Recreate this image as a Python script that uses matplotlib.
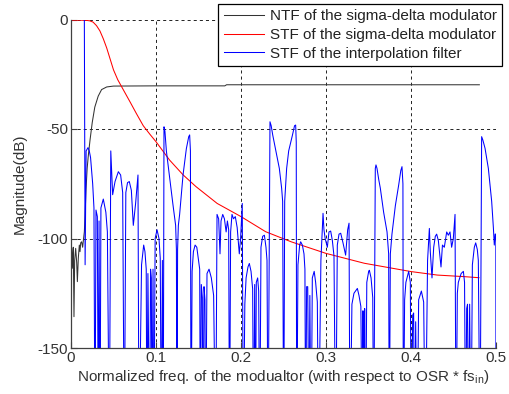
import matplotlib
matplotlib.use("Agg")
import matplotlib.pyplot as plt

plt.rcParams['font.family'] = ['Liberation Sans', 'DejaVu Sans']
plt.rcParams['lines.scale_dashes'] = False

# ---------------- data ----------------
x_ticks = [0, 0.1, 0.2, 0.3, 0.4, 0.5]
x_tick_labels = ['0', '0.1', '0.2', '0.3', '0.4', '0.5']
y_ticks = [-150, -100, -50, 0]
y_tick_labels = ['-150', '-100', '-50', '0']

series_labels = ['NTF of the sigma-delta modulator',
                 'STF of the sigma-delta modulator',
                 'STF of the interpolation filter']

ntf_freq = [0.0000, 0.0008, 0.0020, 0.0027, 0.0035, 0.0043, 0.0055, 0.0067,
            0.0075, 0.0086, 0.0098, 0.0106, 0.0114, 0.0125, 0.0137, 0.0145,
            0.0157, 0.0165, 0.0176, 0.0190, 0.0204, 0.0224, 0.0250, 0.0280,
            0.0320, 0.0360, 0.0420, 0.0500, 0.1000, 0.1810, 0.1830, 0.3000,
            0.4000, 0.4804]
ntf_db = [-108, -104.5, -113.6, -104, -135.7, -110, -104.5, -111,
          -119.7, -109, -103, -106, -102, -101.5, -104, -101,
          -97, -90, -78, -68, -62, -55, -47, -40,
          -35, -32, -30.8, -30.4, -30.3, -30.3, -29.8, -29.8,
          -29.8, -29.8]

stf_sd_freq = [0.000, 0.010, 0.018, 0.022, 0.026, 0.030, 0.034, 0.038,
               0.042, 0.046, 0.050, 0.055, 0.060, 0.065, 0.070, 0.077,
               0.085, 0.093, 0.100, 0.116, 0.132, 0.147, 0.172, 0.200,
               0.229, 0.259, 0.300, 0.345, 0.400, 0.431, 0.462, 0.480]
stf_sd_db = [-0.3, -0.3, -0.4, -0.6, -1.2, -2.8, -5.2, -8.8,
             -13, -18, -23, -27.5, -31, -34.5, -38, -43,
             -48.5, -52.5, -55.8, -64.2, -71, -76.3, -84, -90,
             -96.9, -101.5, -106.8, -111.3, -115.1, -116.7, -117.4, -117.9]

stf_if_freq = [
    0.0000, 0.0157, 0.0166, 0.0178, 0.0200, 0.0215, 0.0230, 0.0255, 0.0270, 0.0282,
    0.0294, 0.0310, 0.0321, 0.0330, 0.0341, 0.0352, 0.0380, 0.0410, 0.0428, 0.0451,
    0.0468, 0.0490, 0.0518, 0.0557, 0.0584, 0.0608, 0.0627, 0.0645, 0.0665, 0.0686,
    0.0710, 0.0733, 0.0760, 0.0788, 0.0800, 0.0830, 0.0855, 0.0870, 0.0885, 0.0893,
    0.0905, 0.0925, 0.0936, 0.0945, 0.0953, 0.0965, 0.0975, 0.0990, 0.1012, 0.1035,
    0.1050, 0.1063, 0.1075, 0.1085, 0.1094, 0.1105, 0.1122, 0.1161, 0.1200, 0.1231,
    0.1240, 0.1247, 0.1254, 0.1263, 0.1278, 0.1318, 0.1357, 0.1385, 0.1396, 0.1405,
    0.1412, 0.1425, 0.1440, 0.1460, 0.1480, 0.1500, 0.1514, 0.1522, 0.1533, 0.1545,
    0.1553, 0.1565, 0.1576, 0.1584, 0.1600, 0.1624, 0.1651, 0.1678, 0.1702, 0.1718,
    0.1737, 0.1753, 0.1765, 0.1785, 0.1805, 0.1825, 0.1840, 0.1855, 0.1865, 0.1878,
    0.1894, 0.1912, 0.1933, 0.1955, 0.1980, 0.1995, 0.2015, 0.2027, 0.2045, 0.2060,
    0.2082, 0.2098, 0.2118, 0.2137, 0.2149, 0.2161, 0.2169, 0.2180, 0.2196, 0.2208,
    0.2220, 0.2235, 0.2255, 0.2275, 0.2294, 0.2306, 0.2318, 0.2341, 0.2355, 0.2373,
    0.2412, 0.2451, 0.2478, 0.2490, 0.2502, 0.2514, 0.2537, 0.2561, 0.2604, 0.2630,
    0.2643, 0.2650, 0.2655, 0.2670, 0.2690, 0.2702, 0.2722, 0.2741, 0.2752, 0.2761,
    0.2772, 0.2785, 0.2800, 0.2810, 0.2825, 0.2839, 0.2861, 0.2878, 0.2898, 0.2912,
    0.2940, 0.2965, 0.2976, 0.2990, 0.3016, 0.3035, 0.3055, 0.3075, 0.3094, 0.3114,
    0.3133, 0.3153, 0.3173, 0.3200, 0.3231, 0.3255, 0.3271, 0.3282, 0.3305, 0.3329,
    0.3369, 0.3388, 0.3410, 0.3427, 0.3435, 0.3445, 0.3455, 0.3465, 0.3480, 0.3502,
    0.3510, 0.3530, 0.3550, 0.3561, 0.3580, 0.3588, 0.3600, 0.3620, 0.3639, 0.3678,
    0.3718, 0.3737, 0.3745, 0.3757, 0.3776, 0.3816, 0.3855, 0.3880, 0.3894, 0.3905,
    0.3910, 0.3925, 0.3940, 0.3973, 0.3992, 0.4004, 0.4020, 0.4031, 0.4042, 0.4055,
    0.4071, 0.4090, 0.4122, 0.4149, 0.4169, 0.4195, 0.4216, 0.4227, 0.4247, 0.4267,
    0.4286, 0.4302, 0.4322, 0.4340, 0.4353, 0.4370, 0.4392, 0.4420, 0.4439, 0.4459,
    0.4478, 0.4498, 0.4518, 0.4530, 0.4545, 0.4557, 0.4590, 0.4616, 0.4630, 0.4643,
    0.4655, 0.4665, 0.4675, 0.4690, 0.4706, 0.4722, 0.4745, 0.4761, 0.4780, 0.4792,
    0.4812, 0.4831, 0.4845, 0.4871, 0.4910, 0.4949, 0.4969, 0.4980, 0.4990, 0.4998,
    0.5000]
stf_if_db = [
    0, 0, -112, -60, -58.5, -60, -63, -75, -86, -200,
    -87, -90, -200, -92, -200, -86, -82, -88, -97, -200,
    -60, -80, -74, -69.5, -71, -79, -200, -79, -74.5, -74,
    -78, -94, -84, -71, -200, -112, -103, -106, -114, -200,
    -116, -200, -114, -118, -200, -114, -200, -100, -96, -100,
    -109, -200, -110, -200, -49, -51, -60, -72.5, -84.7, -94,
    -105, -200, -105, -94, -89, -71, -59, -53.5, -52.7, -60,
    -200, -115, -106, -103, -104, -110, -114, -200, -121, -127,
    -200, -122, -128, -200, -116, -114, -118, -126, -200, -89,
    -91, -107, -92, -89, -91, -97, -92, -96, -200, -97,
    -89, -91, -90, -95, -107, -100, -84, -200, -130, -118,
    -113, -111.4, -115, -123, -200, -121, -200, -120, -118, -124,
    -200, -104, -99, -98.5, -104, -110, -200, -46.7, -48.5, -52.7,
    -60.4, -68, -77, -83, -200, -83, -68, -60, -53, -48.5,
    -48.2, -56, -200, -112, -103, -101.5, -103, -107, -114, -200,
    -122, -122, -200, -126, -200, -118, -115, -120, -129, -200,
    -110, -88.5, -96, -100, -104, -97, -96.6, -101, -108, -200,
    -103, -98, -97.6, -102, -107.6, -96, -93, -200, -130, -125,
    -122.8, -126, -131, -200, -133, -200, -132, -200, -120, -115,
    -114.5, -118, -127, -200, -68, -66.4, -68, -73, -77, -88,
    -97, -107, -200, -107, -98, -85, -75.6, -69, -67.2, -75,
    -200, -128, -120, -115, -120, -200, -135, -134, -200, -138,
    -200, -128, -124, -129, -200, -110, -95.4, -106, -118, -104,
    -99, -98, -101, -108, -113, -103, -104, -97, -98.5, -97,
    -104, -100, -89, -200, -125, -120, -116, -115, -120, -200,
    -132, -130, -200, -130, -200, -112, -104, -102, -105, -110,
    -200, -53.5, -55, -58.8, -68, -83, -95, -103, -98, -98,
    -200]

# ---------------- figure ----------------
fig = plt.figure(figsize=(5.10, 3.94), dpi=100)
ax = fig.add_axes([71 / 510, 1 - 348 / 394, 425 / 510, (348 - 19.5) / 394])

ax.plot(ntf_freq, ntf_db, color='#333333', lw=0.75, label=series_labels[0])
ax.plot(stf_sd_freq, stf_sd_db, color='#ff0000', lw=0.75, label=series_labels[1])
ax.plot(stf_if_freq, stf_if_db, color='#0000ff', lw=0.75, label=series_labels[2])

ax.set_xlim(0, 0.5)
ax.set_ylim(-150, 0)
ax.set_xticks(x_ticks)
ax.set_xticklabels(x_tick_labels)
ax.set_yticks(y_ticks)
ax.set_yticklabels(y_tick_labels)

ax.grid(True, color='#222222', lw=0.7, linestyle=(0, (2.2, 2.2)))
ax.set_axisbelow(True)
for s in ['top', 'right']:
    ax.spines[s].set_visible(False)
for s in ['left', 'bottom']:
    ax.spines[s].set_color('#404040')
    ax.spines[s].set_linewidth(0.9)
ax.tick_params(direction='in', length=4, width=0.8, color='#404040',
               labelsize=11, labelcolor='#333333', pad=2)

ax.set_xlabel('Normalized freq. of the modualtor (with respect to OSR * fs$_\\mathregular{in}$)',
              fontsize=11, color='#333333', labelpad=2)
ax.set_ylabel('Magnitude(dB)', fontsize=11, color='#333333', labelpad=8)

leg = ax.legend(loc='upper right', bbox_to_anchor=(502 / 510, 1 - 4 / 394),
                bbox_transform=fig.transFigure, borderaxespad=0,
                fontsize=11, frameon=True, fancybox=False, framealpha=1,
                edgecolor='black', handlelength=2.6, handletextpad=0.4,
                labelspacing=0.3, borderpad=0.35)
leg.get_frame().set_linewidth(0.9)
for t in leg.get_texts():
    t.set_color('#222222')

fig.savefig('out.png', dpi=100)
